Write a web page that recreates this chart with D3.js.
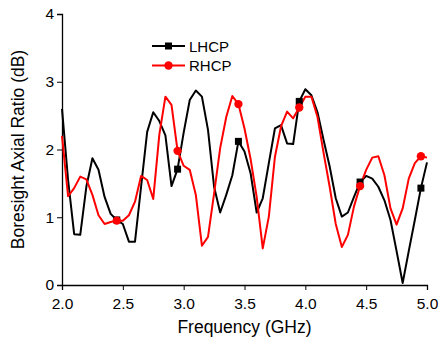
<!DOCTYPE html>
<html>
<head>
<meta charset="utf-8">
<script src="https://cdn.jsdelivr.net/npm/d3@7"></script>
<style>
  body { margin: 0; background: #fff; }
  svg { display: block; font-family: Arial, "Liberation Sans", sans-serif; }
  .axis-label { font-size: 17.5px; fill: #000; }
  .tick-label { font-size: 15.5px; fill: #000; }
  .legend-label { font-size: 15px; fill: #000; }
</style>
</head>
<body>
<svg width="438" height="340"></svg>
<script>
// Frequency samples (GHz), every 0.05 from 2.0 to 5.0
var freq = [
    2.00, 2.05, 2.10, 2.15, 2.20, 2.25, 2.30, 2.35, 2.40, 2.45,
    2.50, 2.55, 2.60, 2.65, 2.70, 2.75, 2.80, 2.85, 2.90, 2.95,
    3.00, 3.05, 3.10, 3.15, 3.20, 3.25, 3.30, 3.35, 3.40, 3.45,
    3.50, 3.55, 3.60, 3.65, 3.70, 3.75, 3.80, 3.85, 3.90, 3.95,
    4.00, 4.05, 4.10, 4.15, 4.20, 4.25, 4.30, 4.35, 4.40, 4.45,
    4.50, 4.55, 4.60, 4.65, 4.70, 4.75, 4.80, 4.85, 4.90, 4.95,
    5.00
];

// Boresight axial ratio (dB)
var lhcp = [
    2.60, 1.55, 0.75, 0.74, 1.45, 1.87, 1.70, 1.30, 1.05, 0.96,
    0.90, 0.64, 0.64, 1.45, 2.26, 2.55, 2.42, 2.21, 1.46, 1.71,
    2.25, 2.73, 2.87, 2.78, 2.29, 1.45, 1.07, 1.33, 1.62, 2.12,
    1.97, 1.65, 1.07, 1.28, 1.80, 2.31, 2.36, 2.09, 2.08, 2.71,
    2.89, 2.80, 2.55, 2.14, 1.75, 1.28, 1.01, 1.07, 1.30, 1.52,
    1.61, 1.57, 1.45, 1.25, 0.96, 0.50, 0.03, 0.50, 0.96, 1.43,
    1.81
];

var rhcp = [
    2.20, 1.31, 1.43, 1.60, 1.56, 1.33, 1.03, 0.90, 0.93, 0.95,
    0.95, 1.03, 1.23, 1.61, 1.55, 1.27, 2.22, 2.78, 2.66, 1.98,
    1.76, 1.70, 1.33, 0.58, 0.71, 1.35, 2.02, 2.48, 2.79, 2.67,
    2.31, 1.86, 1.30, 0.54, 1.01, 1.89, 2.34, 2.56, 2.46, 2.62,
    2.78, 2.78, 2.48, 1.95, 1.45, 0.90, 0.56, 0.74, 1.16, 1.46,
    1.70, 1.88, 1.90, 1.62, 1.13, 0.89, 1.13, 1.57, 1.80, 1.90,
    1.88
];

// Symbols are drawn on every 10th sample
var markerIdx = [9, 19, 29, 39, 49, 59];

var xTicks = [2.0, 2.5, 3.0, 3.5, 4.0, 4.5, 5.0];
var yTicks = [0, 1, 2, 3, 4];

var series = [
    { name: 'LHCP', values: lhcp, color: '#000000', symbol: d3.symbolSquare },
    { name: 'RHCP', values: rhcp, color: '#ff0000', symbol: d3.symbolCircle }
];

var svg = d3.select('svg');
var padding = { t: 14, r: 11, b: 55, l: 62 };
var svgWidth = +svg.attr('width');
var svgHeight = +svg.attr('height');
var chartWidth = svgWidth - padding.l - padding.r;
var chartHeight = svgHeight - padding.t - padding.b - 0; // 271

var chartG = svg.append('g')
    .attr('transform', 'translate(' + [padding.l, padding.t] + ')');

var xScale = d3.scaleLinear().domain([2, 5]).range([0, chartWidth]);
var yScale = d3.scaleLinear().domain([0, 4]).range([chartHeight, 0]);

// minor ticks
var xMinor = d3.range(20, 51).map(d => d / 10).filter(d => Math.round(d * 10) % 5 !== 0);
var yMinor = [0.5, 1.5, 2.5, 3.5];

var xAxisG = chartG.append('g')
    .attr('transform', 'translate(0,' + chartHeight + ')');
xAxisG.call(d3.axisBottom(xScale).tickValues(xMinor).tickSize(3).tickFormat(''));
xAxisG.call(d3.axisBottom(xScale).tickValues(xTicks).tickSize(5).tickFormat(d3.format('.1f')));

var yAxisG = chartG.append('g');
yAxisG.call(d3.axisLeft(yScale).tickValues(yMinor).tickSize(3).tickFormat(''));
yAxisG.call(d3.axisLeft(yScale).tickValues(yTicks).tickSize(5).tickFormat(d3.format('d')));

chartG.selectAll('.domain').attr('stroke', '#000').attr('stroke-width', 1.3);
chartG.selectAll('.tick line').attr('stroke', '#000').attr('stroke-width', 1);
chartG.selectAll('.tick text')
    .attr('class', 'tick-label')
    .style('font-family', 'Arial, "Liberation Sans", sans-serif')
    .style('font-size', '15.5px');
xAxisG.selectAll('.tick text').attr('dy', '1.05em');
yAxisG.selectAll('.tick text').attr('x', -8);

var line = d3.line()
    .x((d, i) => xScale(freq[i]))
    .y(d => yScale(d));

// draw black (LHCP) first, red on top
series.forEach(function (s) {
    chartG.append('path')
        .datum(s.values)
        .attr('fill', 'none')
        .attr('stroke', s.color)
        .attr('stroke-width', 2)
        .attr('stroke-linejoin', 'round')
        .attr('d', line);
});

series.forEach(function (s) {
    chartG.selectAll('.marker-' + s.name)
        .data(markerIdx)
        .enter()
        .append('path')
        .attr('class', 'marker-' + s.name)
        .attr('d', d3.symbol().type(s.symbol).size(s.name === 'LHCP' ? 49 : 55))
        .attr('fill', s.color)
        .attr('transform', i => 'translate(' + xScale(freq[i]) + ',' + yScale(s.values[i]) + ')');
});

// axis titles
svg.append('text')
    .attr('class', 'axis-label')
    .attr('text-anchor', 'middle')
    .attr('x', padding.l + chartWidth / 2)
    .attr('y', 333)
    .text('Frequency (GHz)');

svg.append('text')
    .attr('class', 'axis-label')
    .attr('text-anchor', 'middle')
    .attr('transform', 'translate(24,' + (padding.t + chartHeight / 2) + ') rotate(-90)')
    .text('Boresight Axial Ratio (dB)');

// legend
var legend = svg.append('g').attr('transform', 'translate(152,46)');
series.forEach(function (s, i) {
    var row = legend.append('g').attr('transform', 'translate(0,' + (i * 19.5) + ')');
    row.append('line')
        .attr('x1', 0).attr('x2', 33)
        .attr('y1', 0).attr('y2', 0)
        .attr('stroke', s.color)
        .attr('stroke-width', 2);
    row.append('path')
        .attr('d', d3.symbol().type(s.symbol).size(s.name === 'LHCP' ? 49 : 55))
        .attr('fill', s.color)
        .attr('transform', 'translate(16.5,0)');
    row.append('text')
        .attr('class', 'legend-label')
        .attr('x', 37)
        .attr('y', 5.5)
        .text(s.name);
});
</script>
</body>
</html>
